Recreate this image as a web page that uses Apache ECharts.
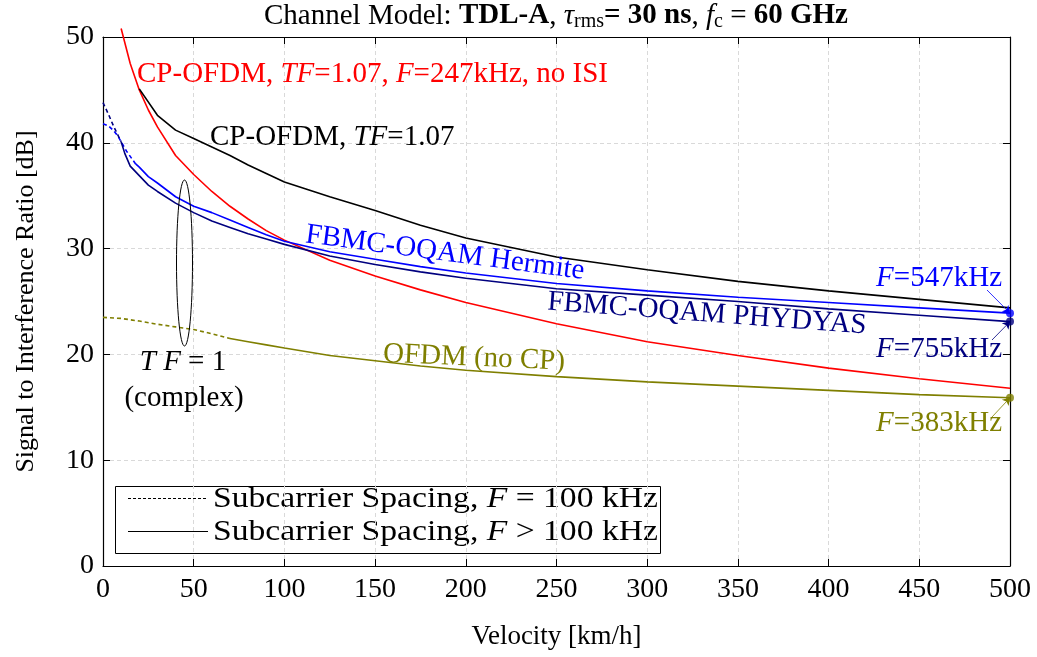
<!DOCTYPE html>
<html>
<head>
<meta charset="utf-8">
<script src="https://cdn.jsdelivr.net/npm/echarts@6/dist/echarts.min.js"></script>
<style>
  html, body { margin: 0; padding: 0; background: #fff; }
  #chart { width: 1037px; height: 657px; }
</style>
</head>
<body>
<div id="chart"></div>
<script>
// Signal to interference ratio [dB] versus velocity [km/h], TDL-A channel, 60 GHz

// CP-OFDM, TF = 1.07, F = 247 kHz, no ISI
const cpOfdmNoIsiV   = [10, 15, 20, 25, 30, 40, 50, 60, 70, 80, 90, 100, 125, 150, 175, 200, 250, 300, 350, 400, 450, 500];
const cpOfdmNoIsiSir = [50.8, 47.5, 45.0, 43.1, 41.5, 38.8, 37.0, 35.4, 34.0, 32.8, 31.7, 30.8, 28.9, 27.4, 26.1, 24.9, 22.9, 21.2, 19.9, 18.7, 17.7, 16.8];

// CP-OFDM, TF = 1.07
const cpOfdmV   = [20, 30, 40, 50, 60, 70, 80, 90, 100, 125, 150, 175, 200, 250, 300, 350, 400, 450, 500];
const cpOfdmSir = [45.1, 42.6, 41.2, 40.4, 39.6, 38.8, 37.9, 37.1, 36.3, 34.9, 33.6, 32.2, 31.0, 29.2, 28.0, 26.9, 26.0, 25.2, 24.4];

// FBMC-OQAM Hermite (F = 100 kHz part, then optimal spacing)
const hermiteDashV   = [0, 3, 5.5, 8, 10, 13, 18];
const hermiteDashSir = [41.8, 41.6, 41.2, 40.7, 40.1, 39.2, 38.0];
const hermiteV   = [18, 20, 25, 30, 40, 50, 60, 70, 80, 90, 100, 125, 150, 175, 200, 250, 300, 350, 400, 450, 500];
const hermiteSir = [38.0, 37.7, 36.8, 36.2, 34.9, 34.0, 33.4, 32.7, 32.0, 31.3, 30.7, 29.7, 29.0, 28.3, 27.7, 26.7, 26.0, 25.4, 24.9, 24.4, 23.9];

// FBMC-OQAM PHYDYAS
const phydyasDashV   = [0, 3, 6, 10];
const phydyasDashSir = [43.8, 42.7, 41.5, 40.1];
const phydyasV   = [10, 12, 15, 20, 25, 30, 40, 50, 60, 70, 80, 90, 100, 125, 150, 175, 200, 250, 300, 350, 400, 450, 500];
const phydyasSir = [40.1, 39.0, 37.8, 36.9, 36.0, 35.4, 34.3, 33.4, 32.6, 32.0, 31.4, 30.9, 30.4, 29.3, 28.5, 27.8, 27.2, 26.2, 25.6, 25.0, 24.3, 23.7, 23.1];

// OFDM without cyclic prefix
const ofdmDashV   = [0, 10, 20, 30, 40, 50, 60, 70];
const ofdmDashSir = [23.5, 23.4, 23.15, 22.85, 22.6, 22.35, 21.95, 21.5];
const ofdmV   = [70, 80, 90, 100, 125, 150, 175, 200, 250, 300, 350, 400, 450, 500];
const ofdmSir = [21.5, 21.2, 20.9, 20.6, 19.9, 19.4, 18.9, 18.5, 17.9, 17.4, 17.0, 16.6, 16.2, 15.9];

// Subcarrier spacings reached at 500 km/h [kHz]
const spacingHermite = 547;
const spacingPhydyas = 755;
const spacingOfdm = 383;

const xRange = [0, 500], xStep = 50;
const yRange = [0, 50], yStep = 10;

const FONT = 'Liberation Serif';
const RED = '#ff0000', BLACK = '#000000', BLUE = '#0000ff', NAVY = '#00007f', OLIVE = '#7f7f00';

const pairs = (v, s) => v.map((x, i) => [x, s[i]]);
const last = (v, s) => [v[v.length - 1], s[s.length - 1]];

function lineSeries(name, v, s, color, dashed, extra) {
  return Object.assign({
    name, type: 'line', data: pairs(v, s), showSymbol: false, symbol: 'none',
    lineStyle: { color, width: 1.6, type: dashed ? [4, 3] : 'solid' },
    animation: false, z: 3
  }, extra || {});
}

function arrowTo(color, from, target) {
  return {
    silent: true, animation: false,
    symbol: ['none', 'arrow'], symbolSize: 7,
    lineStyle: { color, width: 0.8, type: 'solid' },
    label: { show: false },
    data: [[{ x: from[0], y: from[1] }, { coord: target }]]
  };
}

function richLabel(color, size) {
  return {
    n: { fontFamily: FONT, fontSize: size, fill: color },
    i: { fontFamily: FONT, fontSize: size, fill: color, fontStyle: 'italic' }
  };
}

const chart = echarts.init(document.getElementById('chart'), null, { renderer: 'canvas' });

const axisCommon = {
  type: 'value',
  axisLine: { show: true, onZero: false, lineStyle: { color: '#000', width: 1.2 } },
  axisTick: { show: true, inside: true, length: 7, lineStyle: { color: '#000', width: 1 } }
};

const option = {
  backgroundColor: '#fff',
  animation: false,
  grid: { left: 103, right: 27, top: 37, bottom: 91, containLabel: false, outerBoundsMode: 'none' },
  xAxis: [
    Object.assign({}, axisCommon, {
      min: xRange[0], max: xRange[1], interval: xStep, position: 'bottom',
      axisLabel: { fontFamily: FONT, fontSize: 28, color: '#000', margin: 10, showMinLabel: true, showMaxLabel: true },
      splitLine: { show: true, lineStyle: { color: '#d9d9d9', width: 1, type: [4, 3] } },
      name: 'Velocity [km/h]', nameLocation: 'middle', nameGap: 57,
      nameTextStyle: { fontFamily: FONT, fontSize: 27, color: '#000' }
    }),
    Object.assign({}, axisCommon, {
      min: xRange[0], max: xRange[1], interval: xStep, position: 'top',
      axisLabel: { show: false }, splitLine: { show: false }
    })
  ],
  yAxis: [
    Object.assign({}, axisCommon, {
      min: yRange[0], max: yRange[1], interval: yStep, position: 'left',
      axisLabel: { fontFamily: FONT, fontSize: 28, color: '#000', margin: 9, showMinLabel: true, showMaxLabel: true },
      splitLine: { show: true, lineStyle: { color: '#d9d9d9', width: 1, type: [4, 3] } },
      name: 'Signal to Interference Ratio [dB]', nameLocation: 'middle', nameGap: 64,
      nameTextStyle: { fontFamily: FONT, fontSize: 26, color: '#000' }
    }),
    Object.assign({}, axisCommon, {
      min: yRange[0], max: yRange[1], interval: yStep, position: 'right',
      axisLabel: { show: false }, splitLine: { show: false }
    })
  ],
  series: [
    lineSeries('CP-OFDM no ISI', cpOfdmNoIsiV, cpOfdmNoIsiSir, RED, false, { clip: false }),
    lineSeries('CP-OFDM', cpOfdmV, cpOfdmSir, BLACK, false),
    lineSeries('OFDM dashed', ofdmDashV, ofdmDashSir, OLIVE, true),
    lineSeries('OFDM', ofdmV, ofdmSir, OLIVE, false, {
      markLine: arrowTo(OLIVE, [992, 417], last(ofdmV, ofdmSir))
    }),
    lineSeries('Hermite dashed', hermiteDashV, hermiteDashSir, BLUE, true),
    lineSeries('Hermite', hermiteV, hermiteSir, BLUE, false, {
      markLine: arrowTo(BLUE, [987, 290], last(hermiteV, hermiteSir))
    }),
    lineSeries('PHYDYAS dashed', phydyasDashV, phydyasDashSir, NAVY, true),
    lineSeries('PHYDYAS', phydyasV, phydyasSir, NAVY, false, {
      markLine: arrowTo(NAVY, [992, 340], last(phydyasV, phydyasSir))
    }),
    {
      name: 'end points', type: 'scatter', symbol: 'circle', symbolSize: 8, z: 4, animation: false,
      data: [
        { value: last(hermiteV, hermiteSir), itemStyle: { color: BLUE } },
        { value: last(phydyasV, phydyasSir), itemStyle: { color: NAVY } },
        { value: last(ofdmV, ofdmSir), itemStyle: { color: OLIVE } }
      ]
    }
  ],
  graphic: [
    // title
    {
      type: 'text', x: 556, y: 16, z: 10,
      style: {
        text: '{n|Channel Model: }{b|TDL-A}{n|, }{i|τ}{s|rms}{b|= 30 ns}{n|, }{i|f}{s|c}{n| = }{b|60 GHz}',
        align: 'center', verticalAlign: 'middle', fill: '#000',
        fontFamily: FONT, fontSize: 29,
        rich: {
          n: { fontFamily: FONT, fontSize: 29, fill: '#000' },
          b: { fontFamily: FONT, fontSize: 29, fontWeight: 'bold', fill: '#000' },
          i: { fontFamily: FONT, fontSize: 29, fontStyle: 'italic', fill: '#000' },
          s: { fontFamily: FONT, fontSize: 20, fill: '#000', padding: [12, 0, 0, 0] }
        }
      }
    },
    // curve annotations
    {
      type: 'text', x: 137, y: 74, z: 10,
      style: {
        text: '{n|CP-OFDM, }{i|TF}{n|=1.07, }{i|F}{n|=247kHz, no ISI}',
        align: 'left', verticalAlign: 'middle', fill: RED, fontFamily: FONT, fontSize: 29,
        rich: richLabel(RED, 29)
      }
    },
    {
      type: 'text', x: 210, y: 137, z: 10,
      style: {
        text: '{n|CP-OFDM, }{i|TF}{n|=1.07}',
        align: 'left', verticalAlign: 'middle', fill: BLACK, fontFamily: FONT, fontSize: 29,
        rich: richLabel(BLACK, 29)
      }
    },
    {
      type: 'text', x: 445, y: 253, rotation: -7.5 * Math.PI / 180, z: 10,
      style: { text: 'FBMC-OQAM Hermite', align: 'center', verticalAlign: 'middle', fill: BLUE, fontFamily: FONT, fontSize: 29 }
    },
    {
      type: 'text', x: 707, y: 314, rotation: -4.3 * Math.PI / 180, z: 10,
      style: { text: 'FBMC-OQAM PHYDYAS', align: 'center', verticalAlign: 'middle', fill: NAVY, fontFamily: FONT, fontSize: 29 }
    },
    {
      type: 'text', x: 474, y: 358, rotation: -2.5 * Math.PI / 180, z: 10,
      style: { text: 'OFDM (no CP)', align: 'center', verticalAlign: 'middle', fill: OLIVE, fontFamily: FONT, fontSize: 29 }
    },
    {
      type: 'text', x: 1002, y: 278, z: 10,
      style: {
        text: '{i|F}{n|=' + spacingHermite + 'kHz}', align: 'right', verticalAlign: 'middle', fill: BLUE,
        fontFamily: FONT, fontSize: 29, rich: richLabel(BLUE, 29)
      }
    },
    {
      type: 'text', x: 1002, y: 349, z: 10,
      style: {
        text: '{i|F}{n|=' + spacingPhydyas + 'kHz}', align: 'right', verticalAlign: 'middle', fill: NAVY,
        fontFamily: FONT, fontSize: 29, rich: richLabel(NAVY, 29)
      }
    },
    {
      type: 'text', x: 1002, y: 423, z: 10,
      style: {
        text: '{i|F}{n|=' + spacingOfdm + 'kHz}', align: 'right', verticalAlign: 'middle', fill: OLIVE,
        fontFamily: FONT, fontSize: 29, rich: richLabel(OLIVE, 29)
      }
    },
    // TF = 1 group marker
    {
      type: 'ellipse', z: 10,
      shape: { cx: 184.5, cy: 263, rx: 8, ry: 83 },
      style: { fill: 'none', stroke: '#000', lineWidth: 1 }
    },
    {
      type: 'text', x: 183, y: 362, z: 10,
      style: {
        text: '{i|T F}{n| = 1}', align: 'center', verticalAlign: 'middle', fill: '#000',
        fontFamily: FONT, fontSize: 29, rich: richLabel('#000', 29)
      }
    },
    {
      type: 'text', x: 184, y: 398, z: 10,
      style: { text: '(complex)', align: 'center', verticalAlign: 'middle', fill: '#000', fontFamily: FONT, fontSize: 29 }
    },
    // line-style legend
    {
      type: 'group', z: 20,
      children: [
        { type: 'rect', shape: { x: 115.5, y: 486.5, width: 545, height: 67 }, style: { fill: '#fff', stroke: '#000', lineWidth: 1 } },
        { type: 'line', shape: { x1: 128, y1: 498.5, x2: 208, y2: 498.5 }, style: { stroke: '#000', lineWidth: 1, lineDash: [3, 2] } },
        { type: 'line', shape: { x1: 128, y1: 531.5, x2: 208, y2: 531.5 }, style: { stroke: '#000', lineWidth: 1 } },
        {
          type: 'text', x: 213, y: 499, scaleX: 1.16,
          style: {
            text: '{n|Subcarrier Spacing, }{i|F}{n| = 100 kHz}', align: 'left', verticalAlign: 'middle',
            fontFamily: FONT, fontSize: 29, fill: '#000', rich: richLabel('#000', 29)
          }
        },
        {
          type: 'text', x: 213, y: 532, scaleX: 1.16,
          style: {
            text: '{n|Subcarrier Spacing, }{i|F}{n| > 100 kHz}', align: 'left', verticalAlign: 'middle',
            fontFamily: FONT, fontSize: 29, fill: '#000', rich: richLabel('#000', 29)
          }
        }
      ]
    }
  ]
};

chart.setOption(option);
</script>
</body>
</html>
